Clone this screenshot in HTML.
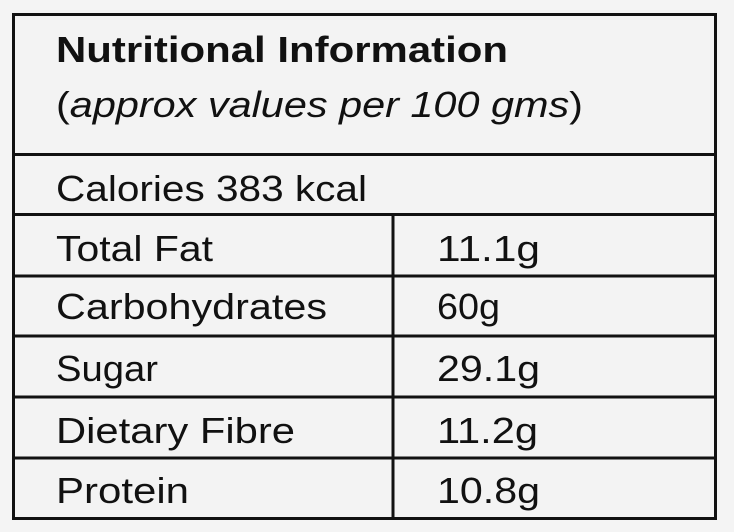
<!DOCTYPE html>
<html><head><meta charset="utf-8"><style>
html,body{margin:0;padding:0;background:#f3f3f3;}
svg{display:block;}
text{font-family:"Liberation Sans",sans-serif;fill:#111;font-size:36px;}
</style></head><body>
<svg width="734" height="532" viewBox="0 0 734 532">
<rect x="0" y="0" width="734" height="532" fill="#f4f4f4"/>
<rect x="13.5" y="14.5" width="702" height="504" fill="#f3f3f3" stroke="#111" stroke-width="3"/>
<g stroke="#111" stroke-width="3">
<line x1="13" y1="154.5" x2="716" y2="154.5"/>
<line x1="13" y1="214.5" x2="716" y2="214.5"/>
<line x1="13" y1="276" x2="716" y2="276"/>
<line x1="13" y1="336" x2="716" y2="336"/>
<line x1="13" y1="397" x2="716" y2="397"/>
<line x1="13" y1="458" x2="716" y2="458"/>
<line x1="393" y1="214" x2="393" y2="518"/>
</g>
<text x="56" y="62" font-weight="bold" textLength="452" lengthAdjust="spacingAndGlyphs">Nutritional Information</text>
<text x="56" y="117" textLength="527" lengthAdjust="spacingAndGlyphs">(<tspan font-style="italic">approx values per 100 gms</tspan>)</text>
<text x="56" y="201" textLength="311" lengthAdjust="spacingAndGlyphs">Calories 383 kcal</text>
<text x="56" y="261" textLength="157" lengthAdjust="spacingAndGlyphs">Total Fat</text>
<text x="56" y="319" textLength="271" lengthAdjust="spacingAndGlyphs">Carbohydrates</text>
<text x="56" y="381" textLength="102" lengthAdjust="spacingAndGlyphs">Sugar</text>
<text x="56" y="443" textLength="239" lengthAdjust="spacingAndGlyphs">Dietary Fibre</text>
<text x="56" y="503" textLength="133" lengthAdjust="spacingAndGlyphs">Protein</text>
<text x="437" y="261" textLength="103" lengthAdjust="spacingAndGlyphs">11.1g</text>
<text x="437" y="319" textLength="63" lengthAdjust="spacingAndGlyphs">60g</text>
<text x="437" y="381" textLength="103" lengthAdjust="spacingAndGlyphs">29.1g</text>
<text x="437" y="443" textLength="101" lengthAdjust="spacingAndGlyphs">11.2g</text>
<text x="437" y="503" textLength="103" lengthAdjust="spacingAndGlyphs">10.8g</text>
</svg>
</body></html>
